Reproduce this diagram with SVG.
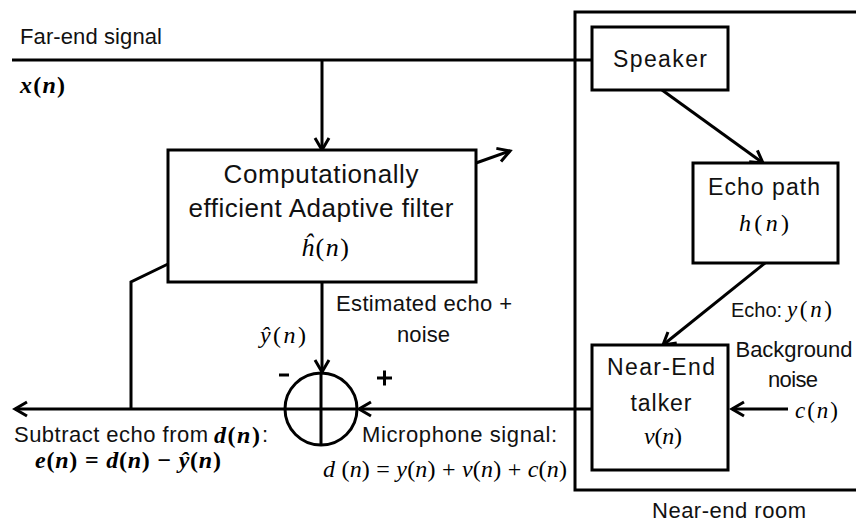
<svg xmlns="http://www.w3.org/2000/svg" width="856" height="522" viewBox="0 0 856 522">
<style>
.box{fill:#fff;stroke:#000;stroke-width:3}
.ln{fill:none;stroke:#000;stroke-width:3}
.t{font-family:"Liberation Sans",Arial,sans-serif;font-size:22px;fill:#111}
.m{font-family:"Liberation Serif","Times New Roman",serif;font-size:24px;fill:#000}
.i{font-style:italic}
.c{text-anchor:middle}
</style>
<defs>
<marker id="arr" markerUnits="userSpaceOnUse" markerWidth="18" markerHeight="18" refX="15" refY="9" orient="auto" overflow="visible">
<path d="M3,2 L15,9 L3,16" fill="none" stroke="#000" stroke-width="3"/>
</marker>
</defs>
<rect width="856" height="522" fill="#fff"/>

<g id="room">
<rect class="box" x="575" y="12" width="290" height="478" fill="none"/>
<text class="t c" x="729" y="518" textLength="154">Near-end room</text>
</g>

<g id="connectors">
<path class="ln" d="M12,60 H592"/>
<path class="ln" d="M322,60 V150" marker-end="url(#arr)"/>
<path class="ln" d="M476,163 L510,151" marker-end="url(#arr)"/>
<path class="ln" d="M662,90 L763,163" marker-end="url(#arr)"/>
<path class="ln" d="M765,263 L663,345" marker-end="url(#arr)"/>
<path class="ln" d="M788,409 H732" marker-end="url(#arr)"/>
<path class="ln" d="M592,409 H359" marker-end="url(#arr)"/>
<path class="ln" d="M322,282 V372" marker-end="url(#arr)"/>
<path class="ln" d="M285,409 H15" marker-end="url(#arr)"/>
<path class="ln" d="M168,264 L131,282 V409"/>
</g>

<g id="farend">
<text class="t" x="20" y="44" textLength="142">Far-end signal</text>
<text class="m" x="20" y="93" font-weight="bold" textLength="45"><tspan class="i">x</tspan>(<tspan class="i">n</tspan>)</text>
</g>

<g id="filter">
<rect class="box" x="168" y="150" width="308" height="132"/>
<text class="t c" x="321" y="183" style="font-size:26px" textLength="195">Computationally</text>
<text class="t c" x="321" y="217" style="font-size:26px" textLength="265">efficient Adaptive filter</text>
<text class="m c" x="325" y="256" style="font-size:26px" textLength="48"><tspan class="i">ĥ</tspan>(<tspan class="i">n</tspan>)</text>
</g>

<g id="speaker">
<rect class="box" x="592" y="27" width="136" height="63"/>
<text class="t c" x="660" y="67" style="font-size:23px" textLength="94">Speaker</text>
</g>

<g id="echopath">
<rect class="box" x="693" y="163" width="145" height="100"/>
<text class="t c" x="764" y="195" style="font-size:23px" textLength="112">Echo path</text>
<text class="m c" x="764" y="231" textLength="50"><tspan class="i">h</tspan>(<tspan class="i">n</tspan>)</text>
</g>

<g id="talker">
<rect class="box" x="592" y="345" width="136" height="125"/>
<text class="t c" x="661" y="375" style="font-size:23px" textLength="108">Near-End</text>
<text class="t c" x="661" y="411" style="font-size:23px" textLength="61">talker</text>
<text class="m c" x="663" y="444" textLength="38"><tspan class="i">v</tspan>(<tspan class="i">n</tspan>)</text>
</g>

<g id="sum">
<circle class="ln" cx="321" cy="409" r="36"/>
<path class="ln" d="M321,373 V445 M285,409 H357"/>
<path class="ln" d="M279,375 H289"/>
<path class="ln" d="M377,378 H392 M384.5,370.5 V385.5"/>
</g>

<g id="labels">
<text class="t" x="731" y="317" style="font-size:20px">Echo:</text>
<text class="m" x="787" y="317" style="font-size:23px" textLength="45"><tspan class="i">y</tspan>(<tspan class="i">n</tspan>)</text>
<text class="t c" x="794" y="357" textLength="117">Background</text>
<text class="t c" x="793" y="387" textLength="50">noise</text>
<text class="m" x="795" y="418" style="font-size:23px" textLength="43"><tspan class="i">c</tspan>(<tspan class="i">n</tspan>)</text>
<text class="t" x="336" y="311" textLength="176">Estimated echo +</text>
<text class="t" x="397" y="342" textLength="53">noise</text>
<text class="m" x="260" y="343" textLength="46"><tspan class="i">ŷ</tspan>(<tspan class="i">n</tspan>)</text>
<text class="t" x="14" y="442" textLength="194">Subtract echo from</text>
<text class="m" x="214" y="443" font-weight="bold" textLength="46"><tspan class="i">d</tspan>(<tspan class="i">n</tspan>)</text>
<text class="t" x="262" y="442">:</text>
<text class="m" x="35" y="468" font-weight="bold" textLength="186"><tspan class="i">e</tspan>(<tspan class="i">n</tspan>) = <tspan class="i">d</tspan>(<tspan class="i">n</tspan>) − <tspan class="i">ŷ</tspan>(<tspan class="i">n</tspan>)</text>
<text class="t" x="362" y="442" textLength="195">Microphone signal:</text>
<text class="m" x="323" y="477" textLength="244"><tspan class="i">d</tspan> (<tspan class="i">n</tspan>) = <tspan class="i">y</tspan>(<tspan class="i">n</tspan>) + <tspan class="i">v</tspan>(<tspan class="i">n</tspan>) + <tspan class="i">c</tspan>(<tspan class="i">n</tspan>)</text>
</g>
</svg>
